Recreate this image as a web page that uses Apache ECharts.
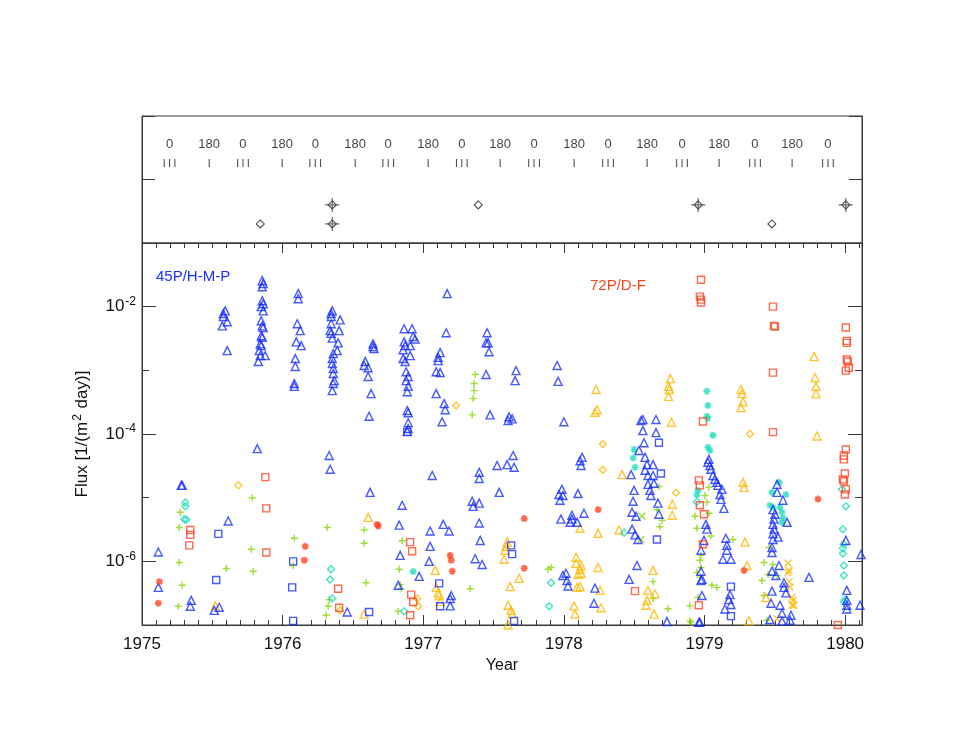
<!DOCTYPE html>
<html>
<head>
<meta charset="utf-8">
<script src="https://cdn.jsdelivr.net/npm/echarts@6/dist/echarts.min.js"></script>
<style>
  html, body { margin: 0; padding: 0; background: #fff; }
  #chart { width: 955px; height: 738px; }
</style>
</head>
<body>
<div id="chart"></div>
<script>
// ---- top panel: phase markers (year) ----
const phaseZero = [1975.196, 1975.718, 1976.232, 1976.751, 1977.274, 1977.788, 1978.314, 1978.840, 1979.359, 1979.878];
const phaseHalf = [1975.478, 1975.997, 1976.516, 1977.035, 1977.547, 1978.073, 1978.592, 1979.104, 1979.623];
// diamonds [year, level]
const plainDiamonds = [[1975.841, 0.3], [1977.391, 0.6], [1979.479, 0.3]];
const crossDiamonds = [[1976.353, 0.6], [1976.353, 0.3], [1978.955, 0.6], [1980.005, 0.6]];

// ---- bottom panel: [year, flux] ----
const hmpTri = [
  [1975.592,8.6e-3],[1975.578,7.8e-3],[1975.578,7.0e-3],[1975.606,5.8e-3],[1975.571,5.0e-3],[1975.606,2.04e-3],
  [1975.855,2.56e-2],[1975.862,2.3e-2],[1975.855,2.05e-2],[1975.855,1.24e-2],[1975.862,1.11e-2],[1975.848,1.0e-2],[1975.862,8.6e-3],
  [1975.848,6.0e-3],[1975.855,5.0e-3],[1975.862,4.7e-3],[1975.848,3.5e-3],[1975.855,3.3e-3],[1975.841,2.6e-3],[1975.848,2.44e-3],
  [1975.834,2.04e-3],[1975.841,1.7e-3],[1975.876,1.7e-3],[1975.827,1.38e-3],[1975.820,5.9e-5],
  [1976.111,1.6e-2],[1976.111,1.33e-2],[1976.104,5.4e-3],[1976.125,4.2e-3],[1976.097,2.8e-3],[1976.132,2.44e-3],[1976.090,1.53e-3],
  [1976.090,1.15e-3],[1976.083,6.2e-4],[1976.083,5.6e-4],
  [1976.353,8.6e-3],[1976.345,7.8e-3],[1976.345,7.0e-3],[1976.345,5.4e-3],[1976.409,6.2e-3],[1976.402,4.2e-3],[1976.338,4.2e-3],
  [1976.345,3.8e-3],[1976.353,3.2e-3],[1976.395,2.7e-3],[1976.388,2.04e-3],[1976.360,1.83e-3],[1976.353,1.53e-3],[1976.353,1.28e-3],
  [1976.360,1.07e-3],[1976.360,8.9e-4],[1976.367,6.9e-4],[1976.360,6.2e-4],[1976.353,4.8e-4],[1976.331,4.6e-5],[1976.338,2.8e-5],
  [1976.643,2.6e-3],[1976.643,2.36e-3],[1976.650,2.2e-3],[1976.587,1.38e-3],[1976.580,1.19e-3],[1976.608,1.1e-3],[1976.608,8.0e-4],
  [1976.629,4.3e-4],[1976.615,1.9e-4],[1976.622,1.21e-5],
  [1975.279,1.56e-5],[1975.286,1.56e-5],[1975.613,4.3e-6],[1975.116,1.4e-6],[1975.116,3.9e-7],[1975.350,2.44e-7],[1975.343,1.97e-7],
  [1975.514,1.7e-7],[1975.549,1.9e-7],[1976.459,1.6e-7],
  [1977.170,1.6e-2],
  [1976.864,4.5e-3],[1976.921,4.5e-3],[1976.928,3.4e-3],[1976.942,3.1e-3],[1976.864,2.8e-3],[1976.871,2.44e-3],[1976.907,2.44e-3],
  [1976.857,2.1e-3],[1976.907,1.7e-3],[1976.857,1.53e-3],[1976.871,1.38e-3],[1976.878,9.5e-4],[1976.893,8.0e-4],[1976.878,6.9e-4],
  [1976.893,5.6e-4],[1976.886,4.6e-4],[1976.886,2.34e-4],[1976.893,2.16e-4],[1976.893,1.5e-4],[1976.893,1.22e-4],[1976.886,1.1e-4],
  [1977.163,3.9e-3],[1977.120,1.9e-3],[1977.106,1.6e-3],[1977.106,1.42e-3],[1977.092,9.5e-4],[1977.120,9.2e-4],[1977.092,4.3e-4],
  [1977.149,3.0e-4],[1977.156,2.4e-4],[1977.134,1.56e-4],
  [1977.454,3.9e-3],[1977.447,2.7e-3],[1977.461,2.7e-3],[1977.468,1.96e-3],[1977.447,8.6e-4],[1977.475,2.0e-4],[1977.610,1.87e-4],
  [1977.632,1.73e-4],[1977.603,1.63e-4],[1977.660,9.9e-4],[1977.653,6.9e-4],[1977.952,1.19e-3],[1977.959,6.7e-4],[1978.000,1.56e-4],
  [1977.639,4.6e-5],[1977.525,3.2e-5],[1977.596,3.3e-5],[1977.646,3.0e-5],[1977.064,2.23e-5],[1977.398,2.5e-5],[1977.398,2.0e-5],
  [1977.540,1.21e-5],[1977.348,8.8e-6],[1977.398,8.2e-6],[1977.355,7.3e-6],[1976.850,7.6e-6],[1976.829,3.7e-6],[1977.142,3.8e-6],
  [1977.398,4.0e-6],[1977.049,3.0e-6],[1977.184,3.0e-6],[1977.405,2.13e-6],[1977.049,1.72e-6],[1976.836,1.24e-6],[1977.042,1.0e-6],
  [1977.369,1.1e-6],[1977.419,8.9e-7],[1976.971,5.8e-7],[1976.822,4.2e-7],[1977.199,2.9e-7],[1977.191,2.6e-7],[1977.191,2.0e-7],
  [1978.130,4.3e-5],[1978.115,3.8e-5],[1978.122,3.2e-5],[1977.986,1.35e-5],[1977.965,1.12e-5],[1977.993,1.08e-5],[1977.972,9.1e-6],
  [1978.100,1.16e-5],[1977.979,4.6e-6],[1978.057,5.3e-6],[1978.057,4.6e-6],[1978.044,4.1e-6],[1978.094,4.1e-6],[1978.143,5.7e-6],
  [1977.993,6.0e-7],[1978.015,6.5e-7],[1978.022,5.0e-7],[1978.029,4.1e-7],[1978.221,3.8e-7],[1978.214,2.2e-7],
  [1978.548,1.63e-4],[1978.562,1.69e-4],[1978.655,1.69e-4],[1978.562,1.13e-4],[1978.655,1.05e-4],
  [1978.570,7.3e-5],[1978.534,5.5e-5],[1978.577,4.3e-5],[1978.591,3.3e-5],[1978.634,3.3e-5],[1978.577,2.7e-5],[1978.478,2.3e-5],
  [1978.598,2.23e-5],[1978.634,2.23e-5],[1978.598,1.62e-5],[1978.641,1.68e-5],[1978.499,1.3e-5],[1978.612,1.3e-5],[1978.619,1.08e-5],
  [1978.492,8.8e-6],[1978.669,8.2e-6],[1978.485,5.9e-6],[1978.513,5.1e-6],[1978.676,5.5e-6],[1978.485,3.2e-6],[1978.506,2.6e-6],
  [1978.527,2.2e-6],[1978.520,8.6e-7],[1978.464,5.2e-7],[1978.733,1.13e-7],[1978.967,1.1e-7],
  [1979.031,4.0e-5],[1979.024,3.6e-5],[1979.039,3.2e-5],[1979.046,2.8e-5],[1979.060,2.23e-5],[1979.074,1.94e-5],[1979.088,1.74e-5],
  [1979.096,1.56e-5],[1979.124,1.35e-5],[1979.110,1.12e-5],[1979.117,9.4e-6],[1979.138,6.8e-6],[1979.010,3.8e-6],[1979.017,3.2e-6],
  [1978.996,2.13e-6],[1978.975,1.49e-6],[1979.152,2.3e-6],[1979.159,1.78e-6],[1979.159,1.49e-6],[1979.131,1.08e-6],[1979.188,1.08e-6],
  [1978.975,7.0e-7],[1978.982,5.2e-7],[1978.975,5.0e-7],[1978.982,2.9e-7],[1979.181,3.0e-7],[1979.174,2.5e-7],[1979.188,2.1e-7],
  [1979.145,1.78e-7],[1978.960,1.1e-7],
  [1979.516,1.62e-5],[1979.516,1.21e-5],[1979.558,9.1e-6],[1979.487,6.5e-6],[1979.501,5.5e-6],[1979.494,4.6e-6],[1979.487,3.8e-6],
  [1979.494,3.2e-6],[1979.487,2.7e-6],[1979.487,2.2e-6],[1979.523,2.4e-6],[1979.587,4.1e-6],[1979.480,1.65e-6],[1979.480,1.38e-6],
  [1979.530,8.6e-7],[1979.480,7.0e-7],[1979.508,6.0e-7],[1979.565,4.6e-7],[1979.565,3.9e-7],[1979.579,3.2e-7],[1979.480,3.4e-7],
  [1979.473,2.2e-7],[1979.537,2.04e-7],[1979.551,1.53e-7],[1979.465,1.22e-7],[1979.551,1.15e-7],[1979.615,1.42e-7],[1979.608,1.19e-7],
  [1979.743,5.6e-7],
  [1980.005,2.13e-6],[1980.012,3.5e-7],[1980.012,2.44e-7],[1980.012,2.04e-7],[1980.012,1.78e-7],[1980.106,2.04e-7],[1980.113,1.28e-6]
];
const blueSq = [
  [1975.543,2.7e-6],[1975.528,5.1e-7],[1976.075,1.0e-6],[1976.068,3.9e-7],[1976.075,1.16e-7],[1976.615,1.6e-7],[1976.886,1.07e-4],
  [1977.625,1.78e-6],[1977.632,1.3e-6],[1977.113,4.5e-7],[1977.120,1.97e-7],[1977.646,1.16e-7],[1978.676,7.3e-5],[1978.690,2.4e-5],
  [1978.662,2.2e-6],[1979.188,4.0e-7],[1979.188,1.38e-7]
];
const dfSq = [
  [1975.877,2.1e-5],[1975.884,6.8e-6],[1975.343,3.1e-6],[1975.343,2.6e-6],[1975.336,1.78e-6],[1975.884,1.38e-6],[1976.395,3.7e-7],
  [1976.402,1.87e-7],[1976.907,2.0e-6],[1976.921,1.44e-6],[1976.914,3.0e-7],[1976.928,2.3e-7],[1976.907,1.42e-7],
  [1978.975,2.65e-2],[1978.967,1.44e-2],[1978.975,1.29e-2],[1978.975,1.16e-2],[1979.487,1.0e-2],[1979.494,5.0e-3],[1979.501,4.85e-3],
  [1979.487,9.2e-4],[1980.005,4.7e-3],[1980.012,2.9e-3],[1980.012,2.7e-3],[1980.012,1.48e-3],[1980.019,1.38e-3],[1980.026,1.1e-3],
  [1980.005,9.9e-4],[1979.487,1.07e-4],[1978.989,1.57e-4],
  [1978.960,1.87e-5],[1978.967,1.56e-5],[1978.967,7.6e-6],[1978.996,5.5e-6],[1978.989,1.85e-6],[1978.960,2.04e-7],[1978.506,3.4e-7],
  [1980.005,5.7e-5],[1979.991,4.6e-5],[1979.991,4.0e-5],[1979.998,2.4e-5],[1979.984,1.94e-5],[1979.991,1.8e-5],[1980.005,1.35e-5],
  [1979.998,1.12e-5],[1979.948,1.0e-7]
];
const redStar = [
  [1975.124,4.8e-7],[1975.116,2.2e-7],[1976.161,1.72e-6],[1976.154,1.04e-6],[1976.672,3.8e-6],[1976.680,3.6e-6],[1977.718,4.7e-6],
  [1978.244,6.5e-6],[1977.191,1.24e-6],[1977.199,1.04e-6],[1977.206,7.0e-7],[1977.718,7.8e-7],[1979.281,7.2e-7],[1979.807,9.5e-6]
];
const orangeTri = [
  [1976.608,4.9e-6],[1975.521,2.0e-7],[1976.580,1.48e-7],[1978.229,5.0e-4],[1978.236,2.4e-4],[1978.222,2.2e-4],[1978.414,2.3e-5],
  [1978.115,3.3e-6],[1978.243,2.75e-6],[1978.392,3.1e-6],[1977.597,2.0e-6],[1977.590,1.72e-6],[1977.582,1.49e-6],[1977.575,1.08e-6],
  [1977.085,7.2e-7],[1977.682,5.4e-7],[1977.618,4.0e-7],[1977.092,3.9e-7],[1977.106,3.2e-7],[1977.113,2.9e-7],[1977.120,2.35e-7],
  [1977.603,2.04e-7],[1977.625,1.7e-7],[1977.632,1.48e-7],[1978.087,1.16e-6],[1978.087,9.3e-7],[1978.122,8.6e-7],[1978.115,7.5e-7],
  [1978.101,6.2e-7],[1978.122,6.5e-7],[1978.243,8.0e-7],[1978.094,3.9e-7],[1978.115,4.0e-7],[1978.257,3.5e-7],[1978.072,2.0e-7],
  [1978.079,1.48e-7],[1978.264,1.87e-7],[1977.603,1.0e-7],
  [1978.757,7.4e-4],[1978.744,5.6e-4],[1978.750,5.0e-4],[1978.744,3.9e-4],[1978.765,1.53e-4],[1979.260,5.0e-4],[1979.267,4.3e-4],
  [1979.274,3.2e-4],[1979.260,2.6e-4],[1979.779,1.64e-3],[1979.786,7.7e-4],[1979.793,5.6e-4],[1979.793,4.3e-4],[1979.800,9.3e-5],
  [1978.771,7.9e-6],[1978.771,5.3e-6],[1978.634,7.2e-7],[1978.598,3.5e-7],[1978.648,3.1e-7],[1978.591,2.44e-7],[1978.584,2.04e-7],
  [1978.641,1.48e-7],[1979.274,1.74e-5],[1979.281,1.45e-5],[1979.288,2.0e-6],[1979.302,8.6e-7],[1979.437,2.7e-7],[1979.316,1.16e-7]
];
const orangeDiam = [
  [1975.685,1.56e-5],[1976.409,1.7e-7],[1977.234,2.8e-4],[1978.277,6.9e-5],[1978.277,2.75e-5],[1976.957,2.6e-7],[1976.964,1.97e-7],
  [1978.798,1.2e-5],[1979.323,1.0e-4]
];
const greenPlus = [
  [1975.784,9.9e-6],[1975.272,5.9e-6],[1975.265,3.4e-6],[1976.083,2.3e-6],[1976.317,3.4e-6],[1976.580,3.1e-6],[1976.580,1.92e-6],
  [1975.777,1.55e-6],[1975.265,9.6e-7],[1975.599,7.7e-7],[1975.791,7.0e-7],[1976.075,8.6e-7],[1975.286,4.2e-7],[1976.594,4.6e-7],
  [1976.331,2.5e-7],[1975.258,1.97e-7],[1976.324,1.97e-7],[1976.310,1.42e-7],
  [1977.370,8.6e-4],[1977.362,6.2e-4],[1977.362,4.8e-4],[1977.355,3.6e-4],[1977.348,2.0e-4],
  [1976.850,2.1e-6],[1976.829,7.5e-7],[1976.836,4.3e-7],[1976.843,3.7e-7],[1977.333,3.7e-7],[1977.888,7.5e-7],[1977.909,8.0e-7],
  [1976.822,1.65e-7],
  [1978.676,1.5e-5],[1978.662,6.5e-6],[1978.698,4.4e-6],[1978.683,3.5e-6],[1978.634,4.8e-7],[1978.634,2.6e-7],[1978.740,1.8e-7],
  [1978.896,1.16e-7],
  [1979.031,1.45e-5],[1979.003,1.08e-5],[1979.017,8.5e-6],[1979.031,5.7e-6],[1978.932,5.1e-6],[1978.946,3.3e-6],[1979.046,2.5e-6],
  [1979.202,2.2e-6],[1978.975,1.24e-6],[1978.967,1.04e-6],[1978.975,8.0e-7],[1978.946,6.7e-7],[1978.967,5.6e-7],[1979.053,4.2e-7],
  [1979.088,3.9e-7],[1978.953,2.7e-7],[1978.896,2.0e-7],[1978.903,1.1e-7],
  [1979.459,1.65e-6],[1979.423,9.6e-7],[1979.487,8.9e-7],[1979.452,6.2e-7],[1979.516,6.0e-7],[1979.409,5.0e-7],[1979.423,2.9e-7],
  [1979.444,1.19e-7]
];
const tealDiam = [
  [1975.308,8.4e-6],[1975.308,7.3e-6],[1975.301,4.6e-6],[1975.315,4.5e-6],[1976.345,7.5e-7],[1976.338,5.2e-7],[1976.353,2.6e-7],
  [1976.864,1.65e-7],[1977.909,4.6e-7],[1977.895,1.97e-7],[1978.428,2.8e-6],[1978.946,8.6e-6],
  [1979.977,1.35e-5],[1980.005,7.3e-6],[1979.984,3.2e-6],[1979.991,1.85e-6],[1979.984,1.6e-6],[1979.984,1.33e-6],[1979.991,8.6e-7],
  [1979.991,6.0e-7],[1979.998,2.5e-7],[1979.991,2.3e-7]
];
const tealStar = [
  [1976.928,6.9e-7],[1979.017,4.7e-4],[1979.024,2.8e-4],[1979.017,1.9e-4],[1979.024,1.75e-4],[1979.060,9.6e-5],[1978.499,5.7e-5],
  [1978.492,4.2e-5],[1978.506,3.0e-5],[1979.024,6.2e-5],[1979.039,5.5e-5],[1978.953,1.3e-5],[1978.946,1.1e-5],
  [1979.530,1.74e-5],[1979.579,1.12e-5],[1979.480,1.21e-5],[1979.465,7.6e-6],[1979.487,7.0e-6],[1979.537,7.0e-6],[1979.551,5.9e-6],
  [1979.558,4.8e-6],[1979.551,4.1e-6]
];
const orangeX = [
  [1979.594,9.3e-7],[1979.601,7.2e-7],[1979.594,6.7e-7],[1979.601,4.8e-7],[1979.608,3.9e-7],[1979.622,2.7e-7],[1979.629,2.44e-7],
  [1979.622,2.04e-7],[1979.636,2.04e-7],[1979.516,1.25e-7]
];
const greenX = [[1978.555,5.1e-6],[1978.548,2.2e-6]];

const FONT = 'Liberation Sans, Arial, sans-serif';
const AXIS_COLOR = '#3a3a3a';
const BLUE = '#1830ff', RED = '#ff4420', ORANGE = '#ffb800', GREEN = '#84d400', TEAL = '#18dcb8';

const PLUS = 'path://M0,-5L0,5M-5,0L5,0';
const XMARK = 'path://M-5,-5L5,5M-5,5L5,-5';
const STAR = 'path://M0,-5L0,5M-5,0L5,0M-3.6,-3.6L3.6,3.6M-3.6,3.6L3.6,-3.6';

const X_MIN = 1975, X_MAX = 1980.12;

// helper for hollow markers in the flux panel
function fluxSeries(name, data, symbol, size, color, width) {
  return {
    name: name,
    type: 'scatter',
    xAxisIndex: 2,
    yAxisIndex: 2,
    data: data,
    symbol: symbol,
    symbolSize: size,
    silent: true,
    itemStyle: { color: 'transparent', borderColor: color, borderWidth: width || 1.4 }
  };
}

function xAxes(grid, pos, major) {
  return {
    type: 'value', gridIndex: grid, position: pos, min: X_MIN, max: X_MAX,
    interval: major ? 1 : 0.1,
    axisLine: { show: major, lineStyle: { color: AXIS_COLOR } },
    axisTick: { show: true, inside: true, length: major ? 10 : 5, lineStyle: { color: AXIS_COLOR } },
    axisLabel: { show: false },
    splitLine: { show: false }
  };
}

const chart = echarts.init(document.getElementById('chart'));

const bottomMajorX = xAxes(1, 'bottom', true);
bottomMajorX.axisLabel = {
  show: true, margin: 11, fontSize: 17, color: '#111', fontFamily: FONT,
  formatter: function (v) { return Math.abs(v - Math.round(v)) < 1e-6 ? String(Math.round(v)) : ''; }
};
bottomMajorX.name = 'Year';
bottomMajorX.nameLocation = 'middle';
bottomMajorX.nameGap = 33;
bottomMajorX.nameTextStyle = { fontSize: 16, color: '#111', fontFamily: FONT };

function logAxis(pos) {
  return {
    type: 'log', logBase: 10, gridIndex: 1, position: pos, min: 1e-7, max: 1e-1,
    axisLine: { show: true, lineStyle: { color: AXIS_COLOR } },
    axisTick: { show: true, inside: true, length: 7, lineStyle: { color: AXIS_COLOR } },
    axisLabel: { show: false },
    splitLine: { show: false }
  };
}
function decadeAxis(pos, withLabels) {
  const ax = {
    type: 'value', gridIndex: 1, position: pos, min: -7, max: -1, splitNumber: 3,
    axisLine: { show: false },
    axisTick: { show: true, inside: true, length: 14, lineStyle: { color: AXIS_COLOR } },
    axisLabel: { show: false },
    splitLine: { show: false }
  };
  if (withLabels) {
    ax.axisLabel = {
      show: true, margin: 6, fontFamily: FONT, color: '#111',
      formatter: function (v) {
        const e = Math.round(v);
        if (Math.abs(v - e) > 1e-6 || e % 2 !== 0) return '';
        return '{b|10}{s|' + e + '}';
      },
      rich: {
        b: { fontSize: 17, fontFamily: FONT, color: '#111', lineHeight: 22 },
        s: { fontSize: 12, fontFamily: FONT, color: '#111', verticalAlign: 'top', lineHeight: 22, padding: [0, 0, 10, 1] }
      }
    };
    ax.name = '{a|Flux [1/(m}{s|2}{a| day)]}';
    ax.nameLocation = 'middle';
    ax.nameRotate = 90;
    ax.nameGap = 50;
    ax.nameTextStyle = {
      rich: {
        a: { fontSize: 17, fontFamily: FONT, color: '#111', lineHeight: 20 },
        s: { fontSize: 12, fontFamily: FONT, color: '#111', verticalAlign: 'top', lineHeight: 20, padding: [0, 1, 8, 1] }
      }
    };
  }
  return ax;
}
function panelAxis(pos) {
  return {
    type: 'value', gridIndex: 0, position: pos, min: 0, max: 2, interval: 1,
    axisLine: { show: true, lineStyle: { color: AXIS_COLOR } },
    axisTick: { show: true, inside: true, length: 13, lineStyle: { color: AXIS_COLOR } },
    axisLabel: { show: false },
    splitLine: { show: false }
  };
}

// phase ticks: three strokes round each zero, one stroke at each 180
const tripleTicks = [];
phaseZero.forEach(function (x) { [-0.038, 0, 0.038].forEach(function (d) { tripleTicks.push([x + d, 1.26]); }); });
const singleTicks = phaseHalf.map(function (x) { return [x, 1.26]; });
const zeroLabels = phaseZero.map(function (x) { return [x, 1.56, '0']; });
const halfLabels = phaseHalf.map(function (x) { return [x, 1.56, '180']; });

function labelSeries(data) {
  return {
    type: 'scatter', xAxisIndex: 0, yAxisIndex: 0, data: data, silent: true,
    symbol: 'rect', symbolSize: 1, itemStyle: { color: 'transparent' },
    label: {
      show: true, position: 'inside', fontSize: 13, fontFamily: FONT, color: '#111',
      formatter: function (p) { return p.data[2]; }
    }
  };
}

const option = {
  backgroundColor: '#ffffff',
  animation: false,
  title: [
    { text: '45P/H-M-P', left: 156, top: 269, padding: 0,
      textStyle: { color: BLUE, fontSize: 15, fontWeight: 'normal', fontFamily: FONT } },
    { text: '72P/D-F', left: 590, top: 278, padding: 0,
      textStyle: { color: RED, fontSize: 15, fontWeight: 'normal', fontFamily: FONT } }
  ],
  grid: [
    { left: 142, right: 93, top: 116, height: 127, show: true, borderColor: AXIS_COLOR, borderWidth: 1 },
    { left: 142, right: 93, top: 243, height: 382, show: true, borderColor: AXIS_COLOR, borderWidth: 1 }
  ],
  xAxis: [
    xAxes(0, 'top', true),
    xAxes(0, 'top', false),
    bottomMajorX,
    xAxes(1, 'bottom', false)
  ],
  yAxis: [
    panelAxis('left'),
    panelAxis('right'),
    logAxis('left'),
    decadeAxis('left', true),
    logAxis('right'),
    decadeAxis('right', false)
  ],
  series: [
    {
      type: 'scatter', xAxisIndex: 0, yAxisIndex: 0, data: tripleTicks.concat(singleTicks), silent: true,
      symbol: 'rect', symbolSize: [1, 8], itemStyle: { color: '#111' }
    },
    labelSeries(zeroLabels),
    labelSeries(halfLabels),
    {
      type: 'scatter', xAxisIndex: 0, yAxisIndex: 0, data: plainDiamonds.concat(crossDiamonds), silent: true,
      symbol: 'diamond', symbolSize: 8,
      itemStyle: { color: 'transparent', borderColor: '#222', borderWidth: 1.1 }
    },
    {
      type: 'scatter', xAxisIndex: 0, yAxisIndex: 0, data: crossDiamonds, silent: true,
      symbol: PLUS, symbolSize: 14,
      itemStyle: { color: 'transparent', borderColor: '#444', borderWidth: 1.2 }
    },
    fluxSeries('green plus', greenPlus, PLUS, 7, GREEN),
    fluxSeries('orange triangles', orangeTri, 'triangle', 8, ORANGE),
    fluxSeries('orange diamonds', orangeDiam, 'diamond', 7, ORANGE),
    fluxSeries('orange x', orangeX, XMARK, 7, ORANGE),
    fluxSeries('green x', greenX, XMARK, 7, GREEN),
    fluxSeries('teal diamonds', tealDiam, 'diamond', 7, TEAL),
    fluxSeries('teal stars', tealStar, STAR, 7, TEAL, 1.6),
    fluxSeries('blue squares', blueSq, 'rect', 7, BLUE),
    fluxSeries('45P/H-M-P', hmpTri, 'triangle', 8, BLUE),
    fluxSeries('72P/D-F', dfSq, 'rect', 7, RED),
    fluxSeries('red stars', redStar, STAR, 7, RED, 1.8)
  ]
};

chart.setOption(option);
</script>
</body>
</html>
